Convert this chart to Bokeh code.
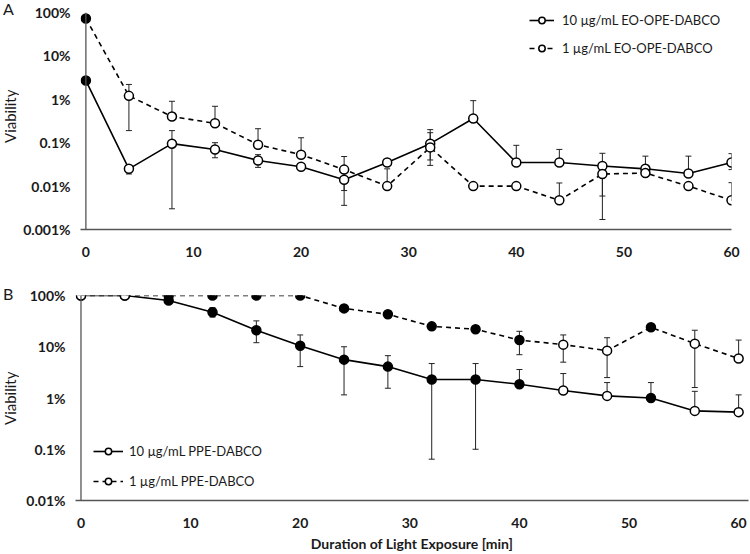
from bokeh.plotting import figure
from bokeh.models import (ColumnDataSource, Whisker, TeeHead, FixedTicker, CustomJSTickFormatter,
                          Legend, LegendItem, Span, Div)
from bokeh.layouts import column, row
from bokeh.embed import file_html
from bokeh.resources import INLINE

# ---------------- data ----------------
time = [0, 4, 8, 12, 16, 20, 24, 28, 32, 36, 40, 44, 48, 52, 56, 60]

# Panel A (viability in %)
a_10 = [2.7, 0.025, 0.095, 0.07, 0.039, 0.028, 0.014, 0.035, 0.095, 0.36, 0.035, 0.035, 0.029, 0.025, 0.0195, 0.035]
a_10_hi = [2.7, 0.03, 0.19, 0.1, 0.053, 0.028, 0.014, 0.035, 0.2, 0.93, 0.087, 0.07, 0.057, 0.049, 0.049, 0.056]
a_10_lo = [2.7, 0.019, 0.003, 0.045, 0.027, 0.028, 0.0036, 0.035, 0.03, 0.36, 0.035, 0.035, 0.0059, 0.025, 0.0195, 0.024]
a_10_sig = [1, 0, 0, 0, 0, 0, 0, 0, 0, 0, 0, 0, 0, 0, 0, 0]

a_1 = [73, 1.2, 0.40, 0.28, 0.09, 0.053, 0.024, 0.01, 0.078, 0.01, 0.01, 0.0047, 0.019, 0.02, 0.01, 0.0047]
a_1_hi = [73, 2.2, 0.9, 0.69, 0.21, 0.13, 0.048, 0.025, 0.17, 0.01, 0.01, 0.0118, 0.019, 0.02, 0.01, 0.012]
a_1_lo = [73, 0.19, 0.40, 0.28, 0.09, 0.053, 0.0079, 0.01, 0.04, 0.01, 0.01, 0.0047, 0.0017, 0.02, 0.01, 0.0047]
a_1_sig = [1, 0, 0, 0, 0, 0, 0, 0, 0, 0, 0, 0, 0, 0, 0, 0]

# Panel B
b_10 = [100, 100, 80, 47, 21, 10.5, 5.6, 4.1, 2.3, 2.3, 1.85, 1.4, 1.1, 1.0, 0.56, 0.53]
b_10_hi = [100, 100, 80, 58, 32, 17, 10, 6.7, 4.7, 4.7, 3.6, 3.0, 2.0, 2.0, 1.35, 1.15]
b_10_lo = [100, 100, 80, 38, 12, 4.1, 1.15, 1.55, 0.064, 0.1, 1.85, 1.4, 1.1, 1.0, 0.56, 0.53]
b_10_sig = [0, 0, 1, 1, 1, 1, 1, 1, 1, 1, 1, 0, 0, 1, 0, 0]

b_1 = [100, 100, 100, 100, 100, 100, 56, 43, 25, 22, 13.5, 11, 8.4, 24, 11.5, 5.9]
b_1_hi = [100, 100, 100, 100, 100, 100, 56, 43, 25, 24, 20, 17, 15, 24, 21, 13.5]
b_1_lo = [100, 100, 100, 100, 100, 100, 56, 43, 25, 20, 7, 5, 2.5, 24, 1.6, 5.9]
b_1_sig = [0, 0, 1, 1, 1, 1, 1, 1, 1, 1, 1, 0, 0, 1, 0, 0]

a_yticks = [0.001, 0.01, 0.1, 1, 10, 100]
a_ylabels = ["0.001%", "0.01%", "0.1%", "1%", "10%", "100%"]
b_yticks = [0.01, 0.1, 1, 10, 100]
b_ylabels = ["0.01%", "0.1%", "1%", "10%", "100%"]
xticks = [0, 10, 20, 30, 40, 50, 60]

a_names = ["10 \u00b5g/mL EO-OPE-DABCO", "1 \u00b5g/mL EO-OPE-DABCO"]
b_names = ["10 \u00b5g/mL PPE-DABCO", "1 \u00b5g/mL PPE-DABCO"]
panel_tags = ["A", "B"]
y_title = "Viability"
x_title = "Duration of Light Exposure [min]"

FONT = "Lato"
INK = "#000000"
AXC = "#555555"
TXT = "#1a1a1a"
STRIP = 20


def fmt(ticks, labels):
    return CustomJSTickFormatter(args=dict(vals=ticks, labs=labels), code="""
        for (let i = 0; i < vals.length; i++) {
            if (Math.abs(Math.log10(tick) - Math.log10(vals[i])) < 1e-6) return labs[i];
        }
        return '';
    """)


def make_panel(height, width, x_end, y_range, yticks, ylabels, bl, bt, br, bb, xlabel):
    p = figure(width=width, height=height, x_range=(-0.5, x_end), y_range=y_range,
               y_axis_type="log", output_backend="svg", toolbar_location=None,
               min_border_left=bl, min_border_top=bt, min_border_right=br, min_border_bottom=bb)
    p.outline_line_color = None
    p.grid.visible = False
    p.xaxis.ticker = FixedTicker(ticks=xticks)
    p.yaxis.ticker = FixedTicker(ticks=yticks)
    p.yaxis.formatter = fmt(yticks, ylabels)
    for ax in (p.xaxis, p.yaxis):
        ax.major_tick_line_color = None
        ax.minor_tick_line_color = None
        ax.major_tick_out = 0
        ax.major_tick_in = 0
        ax.minor_tick_out = 0
        ax.minor_tick_in = 0
        ax.major_label_text_font = FONT
        ax.major_label_text_font_style = "bold"
        ax.major_label_text_font_size = "14px"
        ax.major_label_text_color = TXT
    p.yaxis.axis_line_color = None
    p.xaxis.axis_line_color = AXC
    p.xaxis.axis_line_width = 1.3
    p.xaxis.major_label_standoff = 17
    p.yaxis.major_label_standoff = 10
    if xlabel:
        p.xaxis.axis_label = xlabel
        p.xaxis.axis_label_text_font = FONT
        p.xaxis.axis_label_text_font_style = "bold"
        p.xaxis.axis_label_text_font_size = "14px"
        p.xaxis.axis_label_text_color = TXT
        p.xaxis.axis_label_standoff = 4
    p.add_layout(Span(location=0, dimension="height", line_color=AXC, line_width=1.3))
    return p


def add_series(p, vals, hi, lo, sig, dash):
    src = ColumnDataSource(dict(
        x=time, y=vals, hi=hi, lo=lo,
        fill=[INK if s else "white" for s in sig]))
    p.add_layout(Whisker(source=src, base="x", upper="hi", lower="lo",
                         line_color="#222222", line_width=1,
                         upper_head=TeeHead(size=6, line_color="#222222", line_width=1),
                         lower_head=TeeHead(size=6, line_color="#222222", line_width=1)))
    ln = p.line("x", "y", source=src, line_color=INK, line_width=1.6, line_dash=dash)
    sc = p.scatter("x", "y", source=src, size=9, marker="circle", fill_color="fill",
                   line_color=INK, line_width=1.5)
    return ln, sc


def strip_div(tag_text, tag_top, title_center, height):
    html = (f'<div style="position:relative;width:{STRIP}px;height:{height}px;font-family:Lato;'
            f'color:{TXT};">'
            f'<div style="position:absolute;left:3px;top:{tag_top}px;font-size:16px;'
            f'line-height:18px;">{tag_text}</div>'
            f'<div style="position:absolute;left:1px;top:{title_center - 50}px;width:18px;height:100px;'
            f'writing-mode:vertical-rl;transform:rotate(180deg);text-align:center;'
            f'font-size:15px;line-height:18px;">{y_title}</div>'
            '</div>')
    return Div(text=html, width=STRIP, height=height, margin=0)


# ---------------- panel A ----------------
pa = make_panel(height=262, width=750 - STRIP, x_end=60, y_range=(0.001, 100),
                yticks=a_yticks, ylabels=a_ylabels, bl=80 - STRIP, bt=12, br=19, bb=33, xlabel=None)
a_r10 = add_series(pa, a_10, a_10_hi, a_10_lo, a_10_sig, "solid")
a_r1 = add_series(pa, a_1, a_1_hi, a_1_lo, a_1_sig, "5 4")
leg_a = Legend(items=[LegendItem(label=a_names[0], renderers=list(a_r10), index=1),
                      LegendItem(label=a_names[1], renderers=list(a_r1), index=1)],
               location=(449, 173), padding=0, margin=0, spacing=12,
               glyph_width=25, glyph_height=16, label_height=16, label_standoff=8,
               label_text_font=FONT, label_text_font_size="13px", label_text_color=TXT,
               border_line_color=None, background_fill_alpha=0)
pa.add_layout(leg_a)

# ---------------- panel B ----------------
pb = make_panel(height=292, width=750 - STRIP, x_end=60.9, y_range=(0.01, 100),
                yticks=b_yticks, ylabels=b_ylabels, bl=75 - STRIP, bt=33, br=2, bb=51,
                xlabel=x_title)
b_r10 = add_series(pb, b_10, b_10_hi, b_10_lo, b_10_sig, "solid")
b_r1 = add_series(pb, b_1, b_1_hi, b_1_lo, b_1_sig, "5 4")
leg_b = Legend(items=[LegendItem(label=b_names[0], renderers=list(b_r10), index=1),
                      LegendItem(label=b_names[1], renderers=list(b_r1), index=1)],
               location=(18, 11), padding=0, margin=0, spacing=14,
               glyph_width=30, glyph_height=16, label_height=16, label_standoff=6,
               label_text_font=FONT, label_text_font_size="13px", label_text_color=TXT,
               border_line_color=None, background_fill_alpha=0)
pb.add_layout(leg_b)

top_row = row(strip_div(panel_tags[0], 0, 116, 262), pa)
bot_row = row(strip_div(panel_tags[1], 23, 136, 292), pb)
layout = column(top_row, bot_row)
open("out.html", "w").write(file_html(layout, INLINE))
